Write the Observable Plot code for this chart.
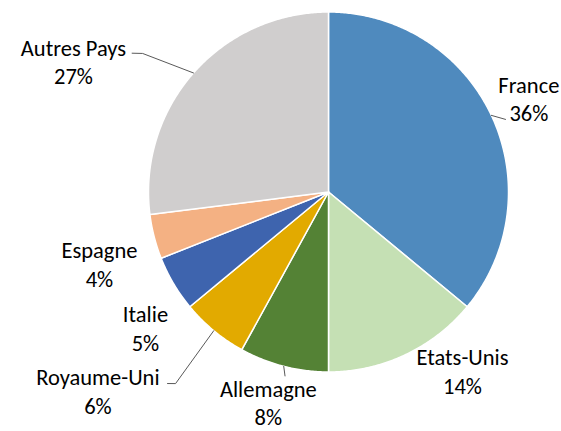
<!DOCTYPE html>
<html>
<head>
<meta charset="utf-8">
<script src="https://cdn.jsdelivr.net/npm/d3@7"></script>
<script src="https://cdn.jsdelivr.net/npm/@observablehq/plot@0.6"></script>
<style>
  html, body { margin: 0; padding: 0; background: #fff; }
</style>
</head>
<body>
<div id="chart"></div>
<script>
// ---- data ----
const countries = ["France", "Etats-Unis", "Allemagne", "Royaume-Uni", "Italie", "Espagne", "Autres Pays"];
const shares = [36, 14, 8, 6, 5, 4, 27];
const sliceColors = ["#4F8ABE", "#C5E0B4", "#548235", "#E2AA00", "#3E64AE", "#F4B183", "#D0CECE"];

// ---- layout (label placement, in units of the pie radius / degrees) ----
const labelRadius = [1.23, 1.24, 1.212, 1.69, 1.265, 1.333, 1.593];
const labelAngleShift = [0, -11.7, 1.6, 9.7, -5.9, -2.9, -14.2];
const leaderCountries = ["France", "Allemagne", "Royaume-Uni", "Autres Pays"];
const leaderBends = [
  [[1.063, 67.7]],
  [[1.05, 193.3]],
  [[1.362, 218.6], [1.39, 220.05]],
  [[1.288, 306.7], [1.336, 305.25]]
];

// ---- geometry from data ----
const total = d3.sum(shares);
const rad = (deg) => deg * Math.PI / 180;
const polar = (r, deg) => ({x: r * Math.sin(rad(deg)), y: r * Math.cos(rad(deg))});

let acc = 0;
const slices = countries.map((name, i) => {
  const start = acc / total * 360;
  acc += shares[i];
  const end = acc / total * 360;
  return {name, share: shares[i], start, end, mid: (start + end) / 2, i};
});

const wedgePoints = [];
for (const s of slices) {
  wedgePoints.push({name: s.name, x: 0, y: 0});
  const n = Math.max(2, Math.ceil((s.end - s.start) / 0.5));
  for (let k = 0; k <= n; k++) {
    const a = s.start + (s.end - s.start) * k / n;
    wedgePoints.push({name: s.name, ...polar(1, a)});
  }
  wedgePoints.push({name: s.name, x: 0, y: 0});
}

const labels = slices.map(s => ({
  name: s.name,
  text: s.name + "\n" + s.share + "%",
  ...polar(labelRadius[s.i], s.mid + labelAngleShift[s.i])
}));

const leaderPoints = [];
leaderCountries.forEach((name, j) => {
  const s = slices.find(d => d.name === name);
  leaderPoints.push({name, ...polar(1, s.mid)});
  for (const [r, a] of leaderBends[j]) leaderPoints.push({name, ...polar(r, a)});
});

const chart = Plot.plot({
  width: 561,
  height: 431,
  marginLeft: 148,
  marginRight: 53,
  marginTop: 11.5,
  marginBottom: 59.5,
  x: {domain: [-1, 1], axis: null},
  y: {domain: [-1, 1], axis: null},
  color: {domain: countries, range: sliceColors},
  style: {fontFamily: "Carlito, Lato, sans-serif", background: "#fff", color: "#000"},
  marks: [
    Plot.line(wedgePoints, {x: "x", y: "y", z: "name", fill: "name", stroke: "#fff", strokeWidth: 1.5, strokeLinejoin: "round", curve: "linear"}),
    Plot.line(leaderPoints, {x: "x", y: "y", z: "name", stroke: "#595959", strokeWidth: 1, curve: "linear"}),
    Plot.text(labels, {x: "x", y: "y", text: "text", fontSize: 22.5, lineHeight: 1.26, fill: "#000", lineAnchor: "middle"})
  ]
});
document.getElementById("chart").appendChild(chart);
</script>
</body>
</html>
